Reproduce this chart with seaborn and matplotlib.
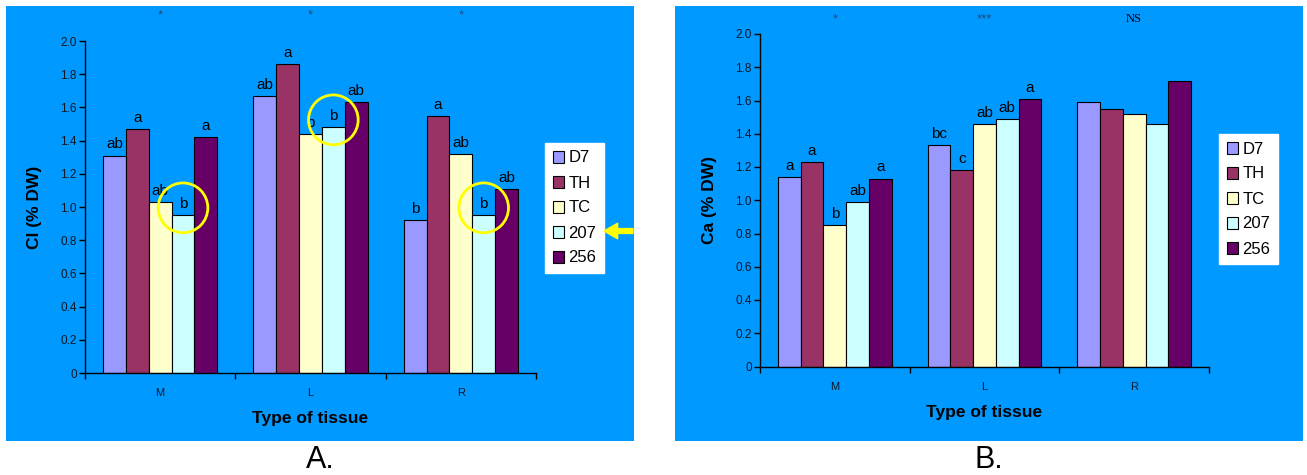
import numpy as np
import pandas as pd
import seaborn as sns
import matplotlib
matplotlib.use('Agg')
import matplotlib.pyplot as plt
from matplotlib.patches import Rectangle, Ellipse

# ---- data ----
tissues = ['M', 'L', 'R']
genotypes = ['D7', 'TH', 'TC', '207', '256']

# panel A : Cl (% DW)
cl_M = [1.31, 1.47, 1.03, 0.95, 1.42]
cl_L = [1.67, 1.86, 1.44, 1.48, 1.63]
cl_R = [0.92, 1.55, 1.32, 0.95, 1.11]
cl_let_M = ['ab', 'a', 'ab', 'b', 'a']
cl_let_L = ['ab', 'a', 'b', 'b', 'ab']
cl_let_R = ['b', 'a', 'ab', 'b', 'ab']
cl_sig = ['*', '*', '*']

# panel B : Ca (% DW)
ca_M = [1.14, 1.23, 0.85, 0.99, 1.13]
ca_L = [1.33, 1.18, 1.46, 1.49, 1.61]
ca_R = [1.59, 1.55, 1.52, 1.46, 1.72]
ca_let_M = ['a', 'a', 'b', 'ab', 'a']
ca_let_L = ['bc', 'c', 'ab', 'ab', 'a']
ca_let_R = ['', '', '', '', '']
ca_sig = ['*', '***', 'NS']

colors = ['#9999FF', '#993366', '#FFFFCC', '#CCFFFF', '#660066']
bg = '#0099FF'
star_col = '#1B4F82'

plt.rcParams['font.family'] = ['Liberation Sans', 'DejaVu Sans']

W, H = 1307, 475


def longframe(vals, lets):
    rows = []
    for t, v, l in zip(tissues, vals, lets):
        for g, y, s in zip(genotypes, v, l):
            rows.append(dict(tissue=t, genotype=g, value=y, letter=s))
    return pd.DataFrame(rows)


def fbox(x0, y0, x1, y1):
    # pixel box (top-left origin) -> figure fraction rect
    return [x0 / W, 1 - y1 / H, (x1 - x0) / W, (y1 - y0) / H]


fig = plt.figure(figsize=(W / 100, H / 100), dpi=100, facecolor='white')

panels = [
    dict(df=longframe([cl_M, cl_L, cl_R], [cl_let_M, cl_let_L, cl_let_R]),
         sig=cl_sig, ylab='Cl (% DW)', bgbox=(6, 6, 634, 441),
         axbox=(85, 41, 536, 373), legbox=(545, 143), star_y=1.078,
         tag='A.', tag_x=320, circles=True),
    dict(df=longframe([ca_M, ca_L, ca_R], [ca_let_M, ca_let_L, ca_let_R]),
         sig=ca_sig, ylab='Ca (% DW)', bgbox=(675, 6, 1303, 441),
         axbox=(760, 34, 1209, 366.5), legbox=(1219, 134), star_y=1.045,
         tag='B.', tag_x=989, circles=False),
]

for p in panels:
    x0, y0, x1, y1 = p['bgbox']
    fig.patches.append(Rectangle((x0 / W, 1 - y1 / H), (x1 - x0) / W, (y1 - y0) / H,
                                 transform=fig.transFigure, facecolor=bg,
                                 edgecolor='none', zorder=-5))
    ax = fig.add_axes(fbox(*p['axbox']))
    ax.set_facecolor(bg)
    ax.patch.set_alpha(0)

    df = p['df']
    sns.barplot(data=df, x='tissue', y='value', hue='genotype', order=tissues,
                hue_order=genotypes, palette=colors, width=0.76, gap=0,
                edgecolor='black', linewidth=0.8, saturation=1, ax=ax)

    # letters above bars
    for g, cont in zip(genotypes, ax.containers):
        labs = [df[(df.tissue == t) & (df.genotype == g)].letter.iloc[0] for t in tissues]
        ax.bar_label(cont, labels=labs, padding=3, fontsize=11, color='black')

    # yellow circles round the 207 letters
    if p['circles']:
        for bar, t in zip(ax.containers[3], tissues):
            cx = bar.get_x() + bar.get_width() / 2
            cy = bar.get_height() + 0.045
            ax.add_patch(Ellipse((cx, cy), 0.33, 0.30, fill=False,
                                 edgecolor='#FFFF00', linewidth=2, clip_on=False,
                                 zorder=5))

    # significance marks above each group
    for i, s in enumerate(p['sig']):
        if s == 'NS':
            ax.text(i, p['star_y'], s, transform=ax.get_xaxis_transform(),
                    ha='center', va='center', fontsize=9,
                    family='Liberation Serif', color='black')
        else:
            ax.text(i, p['star_y'], s, transform=ax.get_xaxis_transform(),
                    ha='center', va='center', fontsize=9.5, color=star_col)

    ax.set_ylim(0, 2.0)
    ax.set_xlim(-0.5, 2.5)
    yt = np.arange(0, 2.01, 0.2)
    ax.set_yticks(yt)
    ax.set_yticklabels(['0'] + ['%.1f' % v for v in yt[1:]])
    ax.set_xticks([0, 1, 2])
    ax.set_xticks([-0.5, 0.5, 1.5, 2.5], minor=True)
    ax.tick_params(axis='x', which='major', length=0, pad=11, labelsize=8,
                   colors='#101828')
    ax.tick_params(axis='x', which='minor', length=4, width=1, direction='out')
    ax.tick_params(axis='y', length=4, width=1, direction='out', labelsize=8.5,
                   pad=2, colors='#101828')
    ax.tick_params(axis='both', color='black')

    for sp in ['top', 'right']:
        ax.spines[sp].set_visible(False)
    for sp in ['left', 'bottom']:
        ax.spines[sp].set_color('black')
        ax.spines[sp].set_linewidth(1)

    ax.set_xlabel('Type of tissue', fontsize=12.5, fontweight='bold', color='black')
    ax.set_ylabel(p['ylab'], fontsize=12.5, fontweight='bold', color='black')
    ax.xaxis.set_label_coords(0.5, -0.115)
    ax.yaxis.set_label_coords(-0.095, 0.5)

    handles, labels = ax.get_legend_handles_labels()
    lx, ly = p['legbox']
    leg = ax.legend(handles, labels, loc='upper left',
                    bbox_to_anchor=(lx / W, 1 - ly / H), bbox_transform=fig.transFigure,
                    frameon=True, fancybox=False, facecolor='white', edgecolor='white',
                    framealpha=1, fontsize=12, handlelength=0.7, handleheight=0.7,
                    handletextpad=0.25, labelspacing=0.6, borderpad=0.45,
                    borderaxespad=0)
    for h in leg.legend_handles:
        h.set_edgecolor('black')
        h.set_linewidth(0.8)

    fig.text(p['tag_x'] / W, 1 - 460 / H, p['tag'], ha='center', va='center',
             fontsize=22, color='black')

# yellow arrow pointing at the 207 legend entry
fig.add_artist(plt.Annotation('', xy=(604 / W, 1 - 231 / H), xycoords='figure fraction',
                              xytext=(633 / W, 1 - 231 / H), textcoords='figure fraction',
                              arrowprops=dict(arrowstyle='simple,head_length=0.7,head_width=0.8,tail_width=0.25',
                                              color='#FFFF00', mutation_scale=14,
                                              shrinkA=0, shrinkB=0)))

fig.savefig('out.png', dpi=100, facecolor='white')
